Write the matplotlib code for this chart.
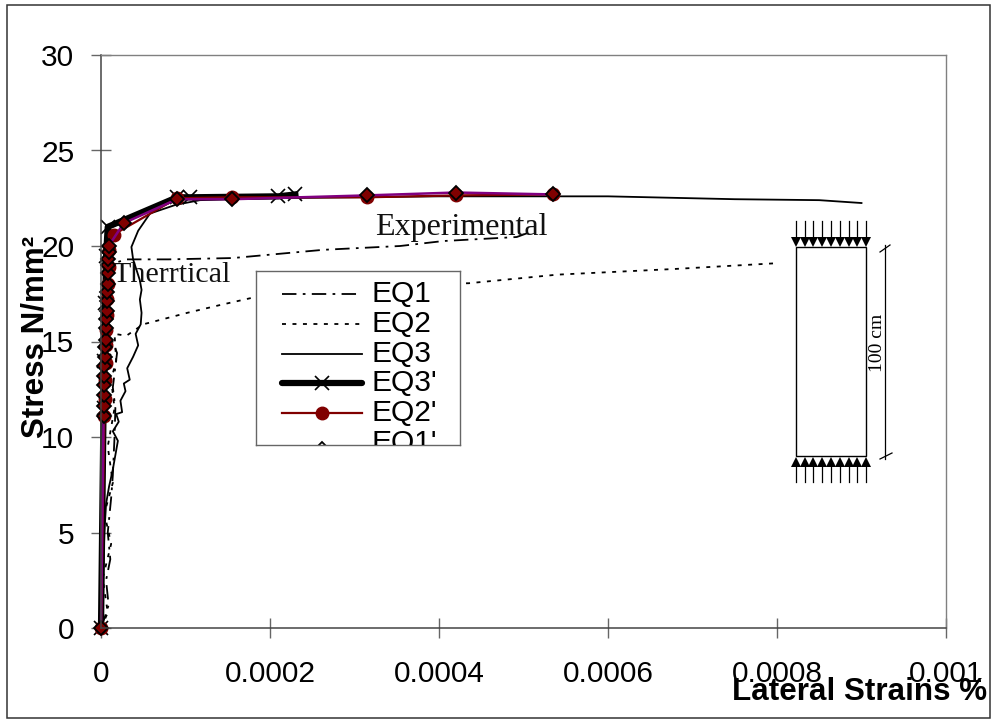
import matplotlib
matplotlib.use("Agg")
import matplotlib.pyplot as plt
from matplotlib.patches import Rectangle

W, H = 997, 719

eq1_x = [0, 0.000004, 0.000009, 0.000006, 0.000011, 0.000008, 0.000012, 0.000014, 0.000016, 0.000017, 0.000014, 0.000019, 0.00001, 0.000006, 0.000008, 0.00003, 0.00008, 0.000156, 0.000263, 0.000354, 0.000405, 0.000492, 0.000508]
eq1_y = [0, 0.5, 1.2, 2.5, 3.6, 5.0, 6.8, 8.0, 10.0, 11.5, 12.6, 14.4, 15.4, 17.0, 19.0, 19.3, 19.3, 19.37, 19.8, 20.0, 20.26, 20.47, 20.73]
eq2_x = [0, 0.000008, 0.000002, 0.000012, 0.000004, 0.000014, 0.000008, 0.000016, 0.000012, 0.000018, 0.000016, 0.00003, 0.00005, 0.000102, 0.00014, 0.00018, 0.00035, 0.000435, 0.00054, 0.00068, 0.0008]
eq2_y = [0, 0.8, 2.6, 4.4, 6.0, 7.6, 9.5, 11.5, 13.0, 14.0, 15.4, 15.3, 15.9, 16.5, 16.9, 17.3, 18.0, 18.05, 18.5, 18.8, 19.1]
eq3_x = [0, 0.000002, 0.000003, 0.000004, 0.000006, 0.0000095, 0.000014, 0.00002, 0.000014, 0.000021, 0.000018, 0.000025, 0.000023, 0.000029, 0.000027, 0.000034, 0.000031, 0.000038, 0.000044, 0.000041, 0.000047, 0.000048, 0.000046, 0.000048, 0.000046, 0.000038, 0.000036, 0.000044, 0.000058, 0.000088, 0.000117, 0.0002, 0.0004, 0.0006, 0.00075, 0.00085, 0.0009]
eq3_y = [0, 2.0, 3.5, 5.0, 6.5, 7.4, 8.3, 9.8, 10.3, 10.8, 11.2, 11.3, 11.9, 12.4, 12.8, 13.0, 13.6, 14.2, 14.8, 15.4, 15.9, 16.5, 17.2, 17.7, 18.2, 19.3, 19.95, 20.8, 21.7, 22.15, 22.4, 22.5, 22.6, 22.6, 22.45, 22.4, 22.25]

eq3p_x = [0, 0.000003, 0.000004, 0.000005, 0.000006, 0.000008, 0.00009, 0.000105, 0.00021, 0.00023]
eq3p_y = [0, 11.5, 14.0, 17.0, 19.5, 21.0, 22.55, 22.55, 22.6, 22.7]
eq2p_x = [0, 0.000004, 0.0000045, 0.000005, 0.0000055, 0.000006, 0.0000065, 0.000007, 0.0000075, 0.000008, 0.000009, 0.00001, 0.000015, 0.00009, 0.000155, 0.000315, 0.00042, 0.000535]
eq2p_y = [0, 11.1, 12.0, 13.0, 13.9, 14.8, 15.6, 16.4, 17.2, 18.0, 18.9, 19.8, 20.6, 22.5, 22.55, 22.55, 22.65, 22.7]
eq1p_x = [0, 0.000003, 0.000003, 0.000003, 0.000004, 0.000004, 0.000004, 0.000005, 0.000005, 0.000006, 0.000006, 0.000006, 0.000007, 0.000007, 0.000007, 0.000008, 0.000008, 0.000008, 0.000008, 0.000009, 0.000009, 0.000027, 0.00009, 0.000155, 0.000315, 0.00042, 0.000535]
eq1p_y = [0, 11.1, 11.6, 12.2, 12.7, 13.2, 13.7, 14.2, 14.7, 15.1, 15.7, 16.2, 16.6, 17.1, 17.6, 18.0, 18.6, 19.0, 19.3, 19.7, 20.0, 21.2, 22.45, 22.45, 22.65, 22.8, 22.7]

x_ticks = [0, 0.0002, 0.0004, 0.0006, 0.0008, 0.001]
x_labels = ["0", "0.0002", "0.0004", "0.0006", "0.0008", "0.001"]
y_ticks = [0, 5, 10, 15, 20, 25, 30]
legend_names = ["EQ1", "EQ2", "EQ3", "EQ3'", "EQ2'", "EQ1'"]

DARK_RED = "#800000"
PURPLE = "#800080"
SANS = "Liberation Sans"
SERIF = "Liberation Serif"
DASHDOT = (0, (8, 3.5, 1.5, 3.5))
DOTTED = (0, (2.2, 3.6))


def fig_box(x0, y0, x1, y1):
    # pixel box (top-left origin) to figure fractions
    return [x0 / W, 1 - y1 / H, (x1 - x0) / W, (y1 - y0) / H]


fig = plt.figure(figsize=(W / 100, H / 100), dpi=100, facecolor="white")
fig.add_artist(Rectangle((7 / W, 1.5 / H), 983 / W, 713 / H, transform=fig.transFigure,
                         fill=False, ec="#333333", lw=1.1))

ax = fig.add_axes(fig_box(101, 55, 946, 628))
ax.set_xlim(0, 0.001)
ax.set_ylim(0, 30)
for side in ["top", "right"]:
    ax.spines[side].set_color("#808080")
    ax.spines[side].set_linewidth(1.0)
for side in ["left", "bottom"]:
    ax.spines[side].set_color("#444444")
    ax.spines[side].set_linewidth(1.1)

ax.set_xticks(x_ticks)
ax.set_xticklabels(x_labels, fontsize=21.5, family=SANS)
ax.set_yticks(y_ticks)
ax.set_yticklabels([str(v) for v in y_ticks], fontsize=21.5, family=SANS)
ax.tick_params(axis="both", which="both", direction="inout", length=14.5, width=1.0, color="#666666")
ax.tick_params(axis="x", pad=16)
ax.tick_params(axis="y", pad=12)

ax.plot(eq1_x, eq1_y, color="black", lw=1.3, ls=DASHDOT, clip_on=False)
ax.plot(eq2_x, eq2_y, color="black", lw=1.3, ls=DOTTED, clip_on=False)
ax.plot(eq3_x, eq3_y, color="black", lw=1.3, clip_on=False)
ax.plot(eq3p_x, eq3p_y, color="black", lw=4.5, marker="x", ms=10, mew=1.2, clip_on=False)
ax.plot(eq2p_x, eq2p_y, color=DARK_RED, lw=1.6, marker="o", ms=9, mec=DARK_RED, clip_on=False)
ax.plot(eq1p_x, eq1p_y, color=PURPLE, lw=1.8, marker="D", ms=7, mfc=DARK_RED, mec="black", mew=1.3, clip_on=False)

ax.text(0.000324, 20.6, "Experimental", fontsize=23, family=SERIF, color="#111111", va="baseline")
ax.text(0.000014, 18.1, "Therrtical", fontsize=21.6, family=SERIF, color="#111111", va="baseline", zorder=1)

fig.text(35 / W, 1 - 337 / H, "Stress N/mm²", rotation=90, fontsize=22.6, fontweight="bold", family=SANS,
         ha="center", va="center")
fig.text(860 / W, 1 - 692 / H, "Lateral Strains %", fontsize=22.6, fontweight="bold", family=SANS,
         ha="center", va="center")

# legend box is cut off at the bottom, so it is its own axes
leg = fig.add_axes(fig_box(256, 271, 460, 445), facecolor="white")
leg.set_xlim(256, 460)
leg.set_ylim(445, 271)
leg.set_xticks([])
leg.set_yticks([])
for s in leg.spines.values():
    s.set_color("#666666")
    s.set_linewidth(1.0)
leg_lines = [
    dict(color="black", lw=1.3, ls=DASHDOT),
    dict(color="black", lw=1.3, ls=DOTTED),
    dict(color="black", lw=1.3),
    dict(color="black", lw=4.5, solid_capstyle="round"),
    dict(color=DARK_RED, lw=1.6),
    None,
]
leg_marks = [
    None,
    None,
    None,
    dict(marker="x", ms=10, mew=1.2, color="black"),
    dict(marker="o", ms=9, color=DARK_RED),
    dict(marker="D", ms=7, mfc="white", mec="black", mew=1.3),
]
leg_rows = [294, 324, 354, 383, 413, 449]
text_rows = [294, 324, 354, 383, 413, 443]
for name, line, mark, row_y, text_y in zip(legend_names, leg_lines, leg_marks, leg_rows, text_rows):
    if line:
        leg.plot([282, 362], [row_y, row_y], **line)
    if mark:
        leg.plot([322], [row_y], **mark)
    leg.text(371, text_y, name, fontsize=21.6, family=SANS, va="center", clip_on=True)

# column sketch on top of the axes, drawn in pixel units
sk = fig.add_axes([0, 0, 1, 1], facecolor="none")
sk.set_xlim(0, W)
sk.set_ylim(H, 0)
sk.axis("off")
sk.add_patch(Rectangle((796, 247), 70, 209, fill=False, ec="black", lw=1.0))
arrow_x = [796, 805, 813, 822, 831, 840, 849, 857, 866]
for a_x in arrow_x:
    sk.plot([a_x, a_x], [221, 238], color="black", lw=0.9)
    sk.plot([a_x], [241.5], marker="v", ms=7.2, color="black", mew=0)
    sk.plot([a_x, a_x], [465, 482], color="black", lw=0.9)
    sk.plot([a_x], [461.5], marker="^", ms=7.2, color="black", mew=0)
sk.plot([885, 885], [245, 459], color="black", lw=0.9)
sk.plot([880, 890], [252, 245], color="black", lw=0.9)
sk.plot([880, 892], [459, 453], color="black", lw=0.9)
sk.text(877, 343, "100 cm", rotation=90, fontsize=14, family=SERIF, ha="center", va="center")

fig.savefig("out.png", dpi=100)
plt.close(fig)
